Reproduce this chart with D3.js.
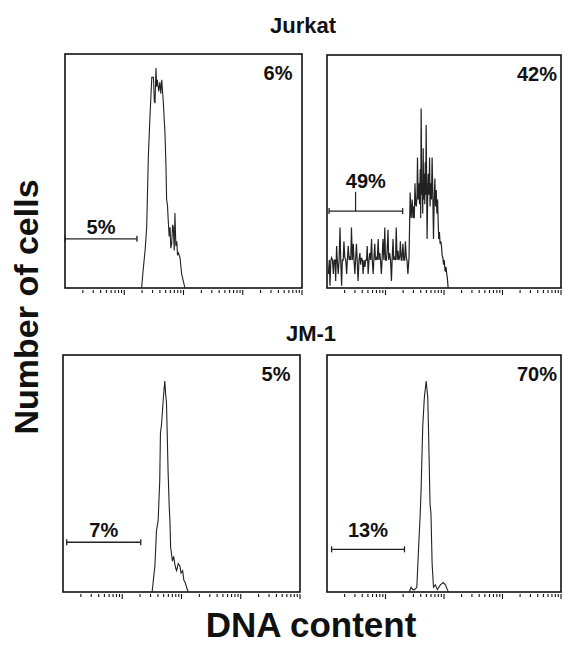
<!DOCTYPE html>
<html lang="en">
<head>
<meta charset="UTF-8" />
<script src="https://d3js.org/d3.v7.min.js"></script>
<title>DNA content</title>
<style>
  body { margin: 0; background: #fff; }
  text { font-family: "Liberation Sans", Arial, Helvetica, sans-serif; font-weight: bold; fill: #111; }
</style>
</head>
<body>
<svg width="562" height="646"></svg>
<script>
// histogram traces: [channel (0-1024, log display over 4 decades), relative cell count]
const jurkatCtrl = [[331,0],[338,8],[346,16],[353,26],[360,56],[367,73],[375,90],[382,90],[386,80],[389,79],
  [393,94],[396,86],[399,89],[405,84],[410,88],[414,83],[418,89],[425,79],[432,66],[436,53],[439,38],
  [443,35],[446,29],[450,22],[454,26],[457,17],[461,19],[465,27],[468,26],[472,16],[475,32],[479,18],
  [483,20],[486,14],[490,15],[497,13],[504,6],[511,3],[518,0]];

const jurkatTreated = [[6,6],[10,12],[13,1],[17,12],[20,13],[24,12],[28,6],[31,12],[35,12],[38,3],[42,18],
  [45,12],[49,6],[53,12],[57,26],[60,12],[64,1],[67,12],[71,12],[74,20],[78,13],[82,12],
  [86,6],[89,12],[93,18],[97,12],[100,13],[104,12],[107,26],[111,12],[115,19],[118,12],[122,6],[125,12],
  [129,19],[132,12],[136,3],[140,12],[144,15],[147,10],[151,13],[155,12],[158,6],[162,12],[166,9],
  [169,12],[173,12],[176,18],[180,6],[184,12],[187,15],[191,12],[195,21],[198,12],[202,6],[205,12],
  [209,19],[212,12],[216,13],[220,12],[224,21],[227,12],[231,15],[234,12],[238,6],[241,12],[245,21],
  [249,12],[253,26],[256,12],[260,12],[263,16],[267,25],[270,12],[274,15],[278,12],[282,3],[285,12],
  [289,21],[292,12],[296,13],[300,12],[303,26],[307,12],[311,16],[314,12],[318,13],[321,20],[325,12],
  [328,12],[332,19],[336,12],[340,12],[343,20],[347,13],[350,12],[354,6],[359,13],[364,41],[368,30],
  [373,38],[376,30],[379,35],[382,30],[385,45],[388,36],[391,35],[394,40],[396,56],[399,38],
  [402,45],[405,36],[408,51],[410,30],[412,77],[415,40],[417,45],[419,32],[421,60],[423,38],[425,49],
  [428,36],[430,54],[432,40],[434,70],[436,45],[438,21],[441,42],[443,49],[446,40],[449,56],[451,35],
  [454,45],[457,38],[460,56],[463,40],[466,21],[469,38],[472,47],[475,35],[478,42],[481,32],[484,38],
  [486,30],[489,21],[492,24],[495,19],[498,20],[501,18],[504,14],[507,13],[510,10],[513,12],
  [516,8],[518,7],[521,9],[524,6],[527,4],[530,0]];

const jm1Ctrl = [[385,0],[397,11],[404,26],[411,30],[418,47],[421,67],[426,71],[433,81],[437,86],[440,89],
  [443,84],[447,80],[450,68],[454,51],[459,36],[462,30],[465,19],[469,16],[473,13],[478,15],[483,12],
  [487,10],[491,9],[498,12],[505,11],[510,8],[517,9],[522,5],[528,4],[534,2],[541,0]];

const jm1Treated = [[360,0],[368,2],[375,1],[383,1],[393,2],[401,19],[408,33],[412,44],[419,70],[426,82],
  [434,89],[441,82],[445,65],[451,37],[455,33],[460,12],[466,2],[474,3],[483,1],[496,3],[509,4],
  [518,3],[527,1],[531,0]];

const series = [jurkatCtrl, jurkatTreated, jm1Ctrl, jm1Treated];
const cornerLabels = ["6%", "42%", "5%", "70%"];
const gateLabels = ["5%", "49%", "7%", "13%"];
// gate: channel from, channel to, level and label level in count units
const gateFrom = [0, 9, 16, 20];
const gateTo = [311, 331, 336, 339];
const gateLevel = [21, 33, 21, 18];
const gateLabelLevel = [23, 43, 23, 23];
const rowTitles = ["Jurkat", "JM-1"];

const svg = d3.select("svg");

const boxes = [
  { x0: 65, x1: 302, y0: 54, y1: 288 },
  { x0: 327, x1: 561, y0: 55, y1: 288 },
  { x0: 63, x1: 300, y0: 355, y1: 592 },
  { x0: 327, x1: 561, y0: 355, y1: 592 }
];

boxes.forEach((b, i) => {
  const x = d3.scaleLinear().domain([0, 1024]).range([b.x0, b.x1]);
  const xlog = d3.scaleLog().domain([1, 10000]).range([b.x0, b.x1]);
  const y = d3.scaleLinear().domain([0, 100]).range([b.y1, b.y0]);
  const g = svg.append("g");

  g.append("rect")
    .attr("x", b.x0).attr("y", b.y0)
    .attr("width", b.x1 - b.x0).attr("height", b.y1 - b.y0)
    .attr("fill", "none").attr("stroke", "#111").attr("stroke-width", 1.6);

  // log ticks under the frame
  const ticks = [];
  for (let d = 0; d < 4; d++) for (let k = 2; k <= 10; k++) ticks.push(k * Math.pow(10, d));
  g.selectAll(".tk").data(ticks).enter().append("line")
    .attr("x1", d => xlog(d)).attr("x2", d => xlog(d))
    .attr("y1", b.y1 + 2)
    .attr("y2", d => b.y1 + (Math.abs(Math.log10(d) % 1) < 1e-9 ? 7 : 5))
    .attr("stroke", "#111").attr("stroke-width", 1.1);

  const line = d3.line().x(d => x(d[0])).y(d => y(d[1]));
  g.append("path").datum(series[i])
    .attr("d", line)
    .attr("fill", "none").attr("stroke", "#222").attr("stroke-width", i === 1 ? 1.2 : 1.1)
    .attr("stroke-linejoin", "miter");

  // gate marker
  const gy = y(gateLevel[i]);
  g.append("line")
    .attr("x1", x(gateFrom[i])).attr("x2", x(gateTo[i]))
    .attr("y1", gy).attr("y2", gy)
    .attr("stroke", "#222").attr("stroke-width", 1.3);
  [gateFrom[i], gateTo[i]].forEach(c => {
    g.append("line")
      .attr("x1", x(c)).attr("x2", x(c))
      .attr("y1", gy - 3).attr("y2", gy + 3)
      .attr("stroke", "#222").attr("stroke-width", 1.3);
  });
  const mid = (gateFrom[i] + gateTo[i]) / 2;
  if (i === 1) {
    g.append("line")
      .attr("x1", x(mid - 45)).attr("x2", x(mid - 45))
      .attr("y1", y(gateLabelLevel[i]) + 4).attr("y2", gy)
      .attr("stroke", "#222").attr("stroke-width", 1.2);
  }
  g.append("text")
    .attr("x", x(mid)).attr("y", y(gateLabelLevel[i]))
    .attr("text-anchor", "middle").attr("font-size", 20)
    .text(gateLabels[i]);

  g.append("text")
    .attr("x", b.x1 - 24).attr("y", b.y0 + 26)
    .attr("text-anchor", "middle").attr("font-size", 20)
    .text(cornerLabels[i]);
});

svg.selectAll(".row").data(rowTitles).enter().append("text")
  .attr("x", (d, i) => i === 0 ? 303 : 311)
  .attr("y", (d, i) => i === 0 ? 33 : 341)
  .attr("text-anchor", "middle").attr("font-size", 22)
  .text(d => d);

svg.append("text")
  .attr("transform", "translate(38,307) rotate(-90)")
  .attr("text-anchor", "middle").attr("font-size", 34)
  .text("Number of cells");

svg.append("text")
  .attr("x", 311).attr("y", 637)
  .attr("text-anchor", "middle").attr("font-size", 35)
  .text("DNA content");
</script>
</body>
</html>
